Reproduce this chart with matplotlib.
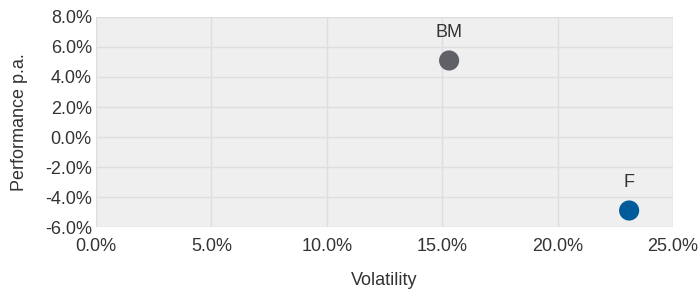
import matplotlib.pyplot as plt
from matplotlib.ticker import FuncFormatter

# data
names = ["BM", "F"]
volatility = [15.3, 23.1]
performance = [5.1, -4.9]
colors = ["#5f6166", "#005b9a"]

x_ticks = [0, 5, 10, 15, 20, 25]
y_ticks = [-6, -4, -2, 0, 2, 4, 6, 8]

plt.rcParams['font.family'] = ['Liberation Sans', 'DejaVu Sans']
text_col = "#333333"
fs = 13

fig = plt.figure(figsize=(6.99, 2.89), dpi=100)
ax = fig.add_axes([0.1373, 0.2145, 0.8255, 0.7267])
ax.set_facecolor("#efefef")

ax.scatter(volatility, performance, s=210, c=colors, zorder=3, linewidths=0)
for n, x, y in zip(names, volatility, performance):
    ax.annotate(n, (x, y), xytext=(0, 14), textcoords="offset points",
                ha="center", va="bottom", fontsize=fs, color=text_col)

pct = FuncFormatter(lambda v, pos: "%.1f%%" % v)
ax.set_xlim(0, 25)
ax.set_ylim(-6, 8)
ax.set_xticks(x_ticks)
ax.set_yticks(y_ticks)
ax.xaxis.set_major_formatter(pct)
ax.yaxis.set_major_formatter(pct)
ax.grid(True, color="#dedede", linewidth=1)
ax.set_axisbelow(True)
for s in ax.spines.values():
    s.set_visible(False)
ax.tick_params(length=0, labelsize=fs, labelcolor=text_col)
ax.tick_params(axis="x", pad=8)
ax.tick_params(axis="y", pad=3)

ax.set_xlabel("Volatility", fontsize=fs, color=text_col, labelpad=12)
ax.set_ylabel("Performance p.a.", fontsize=fs, color=text_col, labelpad=12)

fig.savefig("out.png", dpi=100)
